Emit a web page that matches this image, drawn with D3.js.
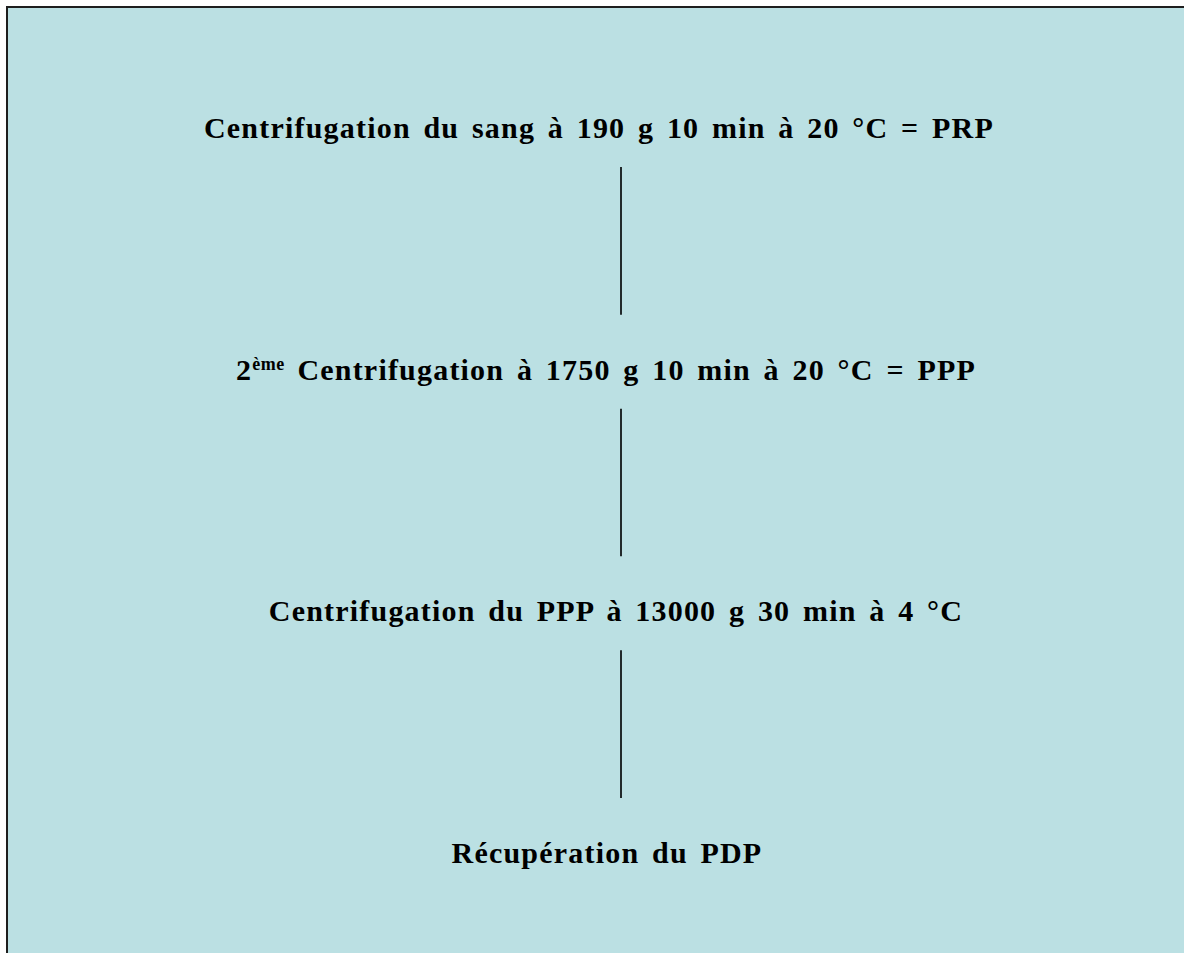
<!DOCTYPE html>
<html>
<head>
<meta charset="utf-8">
<script src="https://cdn.jsdelivr.net/npm/d3@7"></script>
<style>
  html, body { margin: 0; padding: 0; background: #ffffff; overflow: hidden; }
  svg { display: block; }
</style>
</head>
<body>
<svg id="chart" width="1184" height="953"></svg>
<script>
// Steps of the protocol (text), with optional superscript prefix
const stepPrefix = ["", "2", "", ""];
const stepSup = ["", "ème", "", ""];
const stepText = [
  "Centrifugation du sang à 190 g 10 min à 20 °C = PRP",
  " Centrifugation à 1750 g 10 min à 20 °C = PPP",
  "Centrifugation du PPP à 13000 g 30 min à 4 °C",
  "Récupération du PDP"
];
// connectors link step i to step i+1
const links = [[0, 1], [1, 2], [2, 3]];

// ---- layout (not data) ----
const W = 1184, H = 953;
const textCenterX = [599, 606, 616, 607];

const svg = d3.select("#chart");

svg.append("rect")
  .attr("x", 7).attr("y", 7)
  .attr("width", W + 20).attr("height", H + 20)
  .attr("fill", "#BBE0E3")
  .attr("stroke", "#1e1e1e")
  .attr("stroke-width", 2);

const y = d3.scaleLinear().domain([0, stepText.length - 1]).range([138, 863]);

const texts = svg.append("g").selectAll("text")
  .data(stepText.map((t, i) => ({ t, i })))
  .join("text")
  .attr("x", d => textCenterX[d.i])
  .attr("y", d => y(d.i))
  .attr("text-anchor", "middle")
  .attr("font-family", "'Liberation Serif', 'Times New Roman', serif")
  .attr("font-weight", "bold")
  .attr("font-size", 30)
  .attr("letter-spacing", 1.2)
  .attr("word-spacing", 4)
  .attr("fill", "#000");

texts.each(function (d) {
  const el = d3.select(this);
  if (stepPrefix[d.i]) {
    el.append("tspan").text(stepPrefix[d.i]);
    el.append("tspan").attr("font-size", 18).attr("letter-spacing", 0.5).attr("dy", -10).text(stepSup[d.i]);
    el.append("tspan").attr("dy", 10).text(d.t);
  } else {
    el.text(d.t);
  }
});

svg.append("g").selectAll("line")
  .data(links)
  .join("line")
  .attr("x1", 621).attr("x2", 621)
  .attr("y1", d => y(d[0]) + 29)
  .attr("y2", d => y(d[1]) - 65)
  .attr("stroke", "#222a2b")
  .attr("stroke-width", 2);
</script>
</body>
</html>
